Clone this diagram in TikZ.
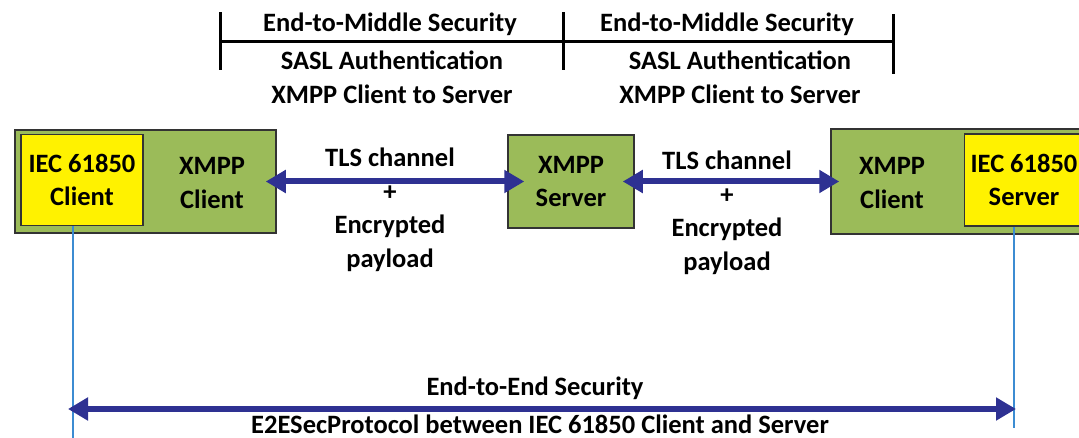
\documentclass[tikz,border=0pt]{standalone}
\usepackage{fontspec}
\setmainfont{Carlito}
\usetikzlibrary{arrows.meta,positioning}
\definecolor{xmppgreen}{RGB}{155,187,89}
\definecolor{arrowblue}{RGB}{46,49,146}
\definecolor{lineblue}{RGB}{60,140,210}

\begin{document}
\begin{tikzpicture}[x=1pt,y=-1pt,
  every node/.style={font=\bfseries\fontsize{26.5}{33.5}\selectfont,align=center,inner sep=0pt},
  greenbox/.style={draw=black!80,line width=1.5pt,fill=xmppgreen},
  yellowbox/.style={draw=black!80,line width=1.5pt,fill=yellow},
  dbl/.style={arrowblue,line width=6pt,{Triangle[length=20pt,width=22pt]}-{Triangle[length=20pt,width=22pt]}},
  bracket/.style={line width=3pt},
  thin/.style={lineblue,line width=1.2pt}]
\useasboundingbox (0,0) rectangle (1079,438);

% boxes
\node[greenbox,minimum width=261pt,minimum height=103pt] (lc) at (145.5,181.5) {};
\node[yellowbox,minimum width=122pt,minimum height=91pt] (iecc) at (82,180) {IEC 61850\\Client};
\node (xc) at (212,183) {XMPP\\Client};
\node[greenbox,minimum width=126pt,minimum height=93pt] (srv) at (571,181.5) {XMPP\\Server};
\node[greenbox,minimum width=254pt,minimum height=105pt] (rc) at (958,181.5) {};
\node[yellowbox,minimum width=119pt,minimum height=92pt] (iecs) at (1024,180) {IEC 61850\\Server};
\node (xc2) at (892,183) {XMPP\\Client};

% channels
\draw[dbl,shorten <=-11pt,shorten >=-17pt] (lc.east) -- (srv.west);
\draw[dbl,shorten <=-12pt,shorten >=-9pt] (srv.east) -- (rc.west);
\node (tls1) at (390,210) {TLS channel\\+\\Encrypted\\payload};
\node (tls2) at (727,213) {TLS channel\\+\\Encrypted\\payload};

% end-to-middle brackets
\coordinate (b1) at (220,42);
\coordinate (b2) at (563,42);
\coordinate (b3) at (893,42);
\draw[bracket] (b1) -- (b3);
\draw[bracket] ([yshift=-28]b1) -- ([yshift=30]b1);
\draw[bracket] ([yshift=-28]b2) -- ([yshift=30]b2);
\draw[bracket] ([yshift=-32]b3) -- ([yshift=28]b3);
\node (e2m1) at (390,24) {End-to-Middle Security};
\node (e2m2) at (727,24) {End-to-Middle Security};
\node (sasl1) at (392,77.5) {SASL Authentication\\XMPP Client to Server};
\node (sasl2) at (740,77.5) {SASL Authentication\\XMPP Client to Server};

% end-to-end
\coordinate (lb) at (73,438);
\coordinate (rb) at (1014,428);
\draw[thin] (iecc.south -| lb) -- (lb);
\draw[thin] (iecs.south -| rb) -- (rb);
\coordinate (e2l) at (68,409);
\coordinate (e2r) at (1016,409);
\draw[dbl] (e2l) -- (e2r);
\node (e2e) at (535,388) {End-to-End Security};
\node (proto) at (540,424) {E2ESecProtocol between IEC 61850 Client and Server};
\end{tikzpicture}
\end{document}
